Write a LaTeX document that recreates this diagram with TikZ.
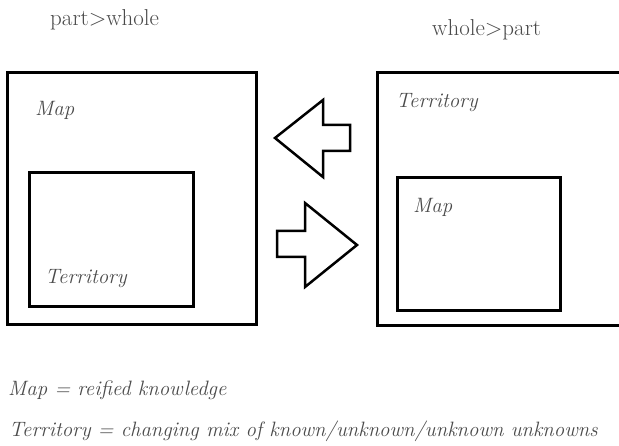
\documentclass[tikz,border=0pt]{standalone}
\usetikzlibrary{positioning}
\definecolor{inkgray}{HTML}{4A4A4A}
\tikzset{
    %Define standard box outline
    box/.style = {draw, line width=3pt, inner sep=0pt, outer sep=0pt},
}

\begin{document}
\begin{tikzpicture}[x=1pt, y=-1pt,
    lbl/.style = {inkgray, font=\fontsize{20.8}{24}\selectfont\itshape,
                  inner sep=0pt, anchor=base west},
    head/.style = {inkgray, font=\fontsize{23}{27}\selectfont,
                   inner sep=0pt, anchor=base west},
    blk/.style = {draw, line width=2.5pt, line join=miter, fill=white},
  ]
  \useasboundingbox (0,0) rectangle (619,446);
  \node[head] (pw-title) at (50,26) {part>whole};
  \node[head] (wp-title) at (432,36) {whole>part};

  % left: map holds territory
  \node[box, minimum width=249pt, minimum height=252pt] (map-outer) at (131.5,199) {};
  \node[box, minimum width=164pt, minimum height=134pt] (terr-inner) at (111,240) {};
  \node[lbl] (map-outer-lbl) at (35,116) {Map};
  \node[lbl] (terr-inner-lbl) at (45,284) {Territory};

  % right: territory holds map
  \node[box, minimum width=245pt, minimum height=253pt] (terr-outer) at (499.5,199.5) {};
  \node[box, minimum width=163pt, minimum height=133pt] (map-inner) at (478.5,244.5) {};
  \node[lbl] (terr-outer-lbl) at (396,108) {Territory};
  \node[lbl] (map-inner-lbl) at (413,213) {Map};

  \draw[blk] (275,138) -- (323,100) -- (323,125) -- (350,125) -- (350,151)
    -- (323,151) -- (323,177) -- cycle;
  \draw[blk] (277,231) -- (305,231) -- (305,203) -- (357,245) -- (305,287)
    -- (305,257) -- (277,257) -- cycle;

  \node[lbl] (map-def) at (8,396) {Map = reified knowledge};
  \node[lbl] (terr-def) at (9,436) {Territory = changing mix of known/unknown/unknown unknowns};
\end{tikzpicture}
\end{document}
